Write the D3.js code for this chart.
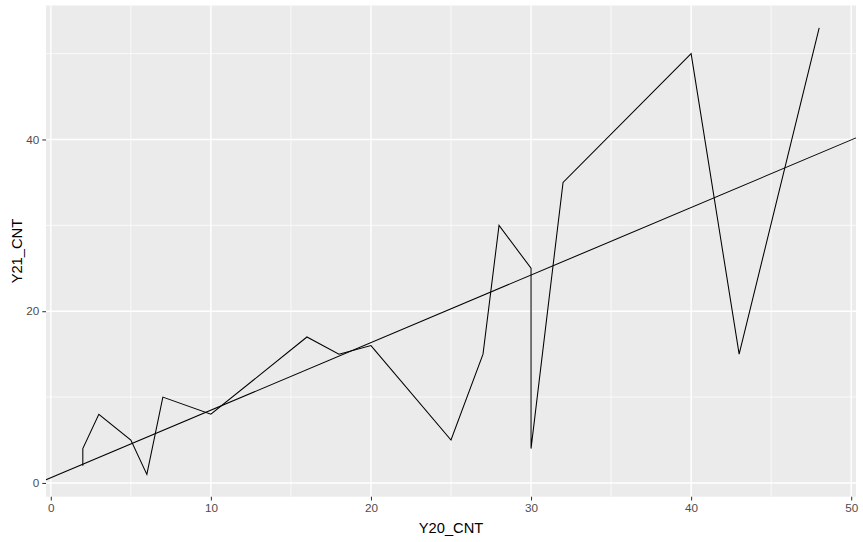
<!DOCTYPE html>
<html>
<head>
<meta charset="utf-8">
<script src="https://cdn.jsdelivr.net/npm/d3@7"></script>
<style>
  body { margin: 0; background: #fff; }
  svg { display: block; font-family: "Liberation Sans", Arial, sans-serif; }
</style>
</head>
<body>
<svg id="chart" width="863" height="542"></svg>
<script>
// values (line is drawn in x order, like geom_line)
const y20 = [2, 2, 3, 5, 6, 7, 10, 16, 18, 20, 25, 27, 28, 30, 30, 32, 40, 43, 48];
const y21 = [2, 4, 8, 5, 1, 10, 8, 17, 15, 16, 5, 15, 30, 25, 4, 35, 50, 15, 53];

// fitted straight line
const fitIntercept = 0.6;
const fitSlope = 0.787;

const xMajor = [0, 10, 20, 30, 40, 50];
const xMinor = [5, 15, 25, 35, 45];
const yMajor = [0, 20, 40];
const yMinor = [10, 30, 50];

const W = 863, H = 542;
const margin = { top: 5.5, right: 7, bottom: 45.3, left: 46 };

const svg = d3.select("#chart");

const pts = y20.map((d, i) => ({ x: d, y: y21[i] }));

// ggplot style 5% expansion
const xExt = d3.extent(y20), yExt = d3.extent(y21);
const xPad = (xExt[1] - xExt[0]) * 0.05, yPad = (yExt[1] - yExt[0]) * 0.05;

const x = d3.scaleLinear()
  .domain([xExt[0] - xPad, xExt[1] + xPad])
  .range([margin.left, W - margin.right]);
const y = d3.scaleLinear()
  .domain([yExt[0] - yPad, yExt[1] + yPad])
  .range([H - margin.bottom, margin.top]);

// panel
svg.append("rect")
  .attr("x", margin.left).attr("y", margin.top)
  .attr("width", W - margin.right - margin.left)
  .attr("height", H - margin.bottom - margin.top)
  .attr("fill", "#EBEBEB");

const grid = svg.append("g");
grid.selectAll(".xmin").data(xMinor).enter().append("line")
  .attr("x1", d => x(d)).attr("x2", d => x(d))
  .attr("y1", margin.top).attr("y2", H - margin.bottom)
  .attr("stroke", "#fff").attr("stroke-width", 0.7);
grid.selectAll(".ymin").data(yMinor).enter().append("line")
  .attr("y1", d => y(d)).attr("y2", d => y(d))
  .attr("x1", margin.left).attr("x2", W - margin.right)
  .attr("stroke", "#fff").attr("stroke-width", 0.7);
grid.selectAll(".xmaj").data(xMajor).enter().append("line")
  .attr("x1", d => x(d)).attr("x2", d => x(d))
  .attr("y1", margin.top).attr("y2", H - margin.bottom)
  .attr("stroke", "#fff").attr("stroke-width", 1.4);
grid.selectAll(".ymaj").data(yMajor).enter().append("line")
  .attr("y1", d => y(d)).attr("y2", d => y(d))
  .attr("x1", margin.left).attr("x2", W - margin.right)
  .attr("stroke", "#fff").attr("stroke-width", 1.4);

// data line
const line = d3.line().x(d => x(d.x)).y(d => y(d.y));
svg.append("path")
  .datum(pts)
  .attr("d", line)
  .attr("fill", "none")
  .attr("stroke", "#000")
  .attr("stroke-width", 1.05);

// abline across the panel
const [x0, x1] = x.domain();
svg.append("line")
  .attr("x1", x(x0)).attr("y1", y(fitIntercept + fitSlope * x0))
  .attr("x2", x(x1)).attr("y2", y(fitIntercept + fitSlope * x1))
  .attr("stroke", "#000")
  .attr("stroke-width", 1.05);

// axes
const xAxis = d3.axisBottom(x).tickValues(xMajor).tickSize(3.7).tickPadding(3).tickFormat(d3.format("d"));
const yAxis = d3.axisLeft(y).tickValues(yMajor).tickSize(3.7).tickPadding(3).tickFormat(d3.format("d"));

const gx = svg.append("g")
  .attr("transform", `translate(0, ${H - margin.bottom})`)
  .call(xAxis);
const gy = svg.append("g")
  .attr("transform", `translate(${margin.left}, 0)`)
  .call(yAxis);

[gx, gy].forEach(g => {
  g.select(".domain").remove();
  g.selectAll(".tick line").attr("stroke", "#333333").attr("stroke-width", 1.05);
  g.selectAll(".tick text")
    .attr("fill", "#4D4D4D")
    .style("font-size", "11.7px")
    .style("font-family", "'Liberation Sans', Arial, sans-serif");
});

// axis titles
svg.append("text")
  .attr("x", (margin.left + W - margin.right) / 2)
  .attr("y", 533)
  .attr("text-anchor", "middle")
  .style("font-size", "14.7px")
  .attr("fill", "#000")
  .text("Y20_CNT");

svg.append("text")
  .attr("transform", `translate(21.5, ${(margin.top + H - margin.bottom) / 2}) rotate(-90)`)
  .attr("text-anchor", "middle")
  .style("font-size", "14.7px")
  .attr("fill", "#000")
  .text("Y21_CNT");
</script>
</body>
</html>
